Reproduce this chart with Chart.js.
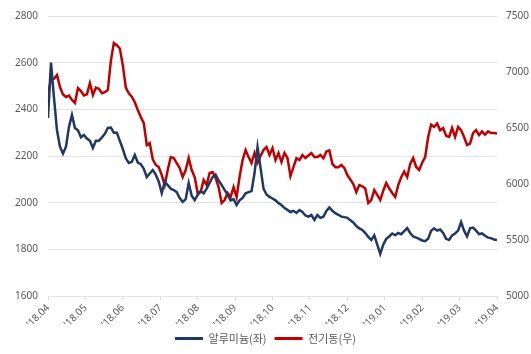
<!DOCTYPE html>
<html>
<head>
<meta charset="utf-8">
<script src="https://cdn.jsdelivr.net/npm/chart.js@4/dist/chart.umd.min.js"></script>
<style>
html,body{margin:0;padding:0;background:#fff;}
#wrap{width:531px;height:354px;position:relative;}
</style>
</head>
<body>
<div id="wrap"><canvas id="c" width="531" height="354"></canvas></div>
<script>
// Month tick labels (x axis)
const tickLabels = ["'18.04","'18.05","'18.06","'18.07","'18.08","'18.09","'18.10","'18.11","'18.12","'19.01","'19.02","'19.03","'19.04"];
const pointsPerMonth = 12.5; // sampling grid of the series below
const seriesNames = ["알루미늄(좌)", "전기동(우)"];

// Aluminium (left axis)
const aluminium = [
2363,2600,2450,2310,2240,2210,2240,2324,2376,2320,
2310,2280,2290,2275,2265,2234,2265,2265,2280,2295,
2320,2322,2300,2300,2265,2230,2190,2170,2175,2204,
2172,2165,2145,2110,2125,2140,2120,2090,2041,2089,
2075,2060,2054,2045,2020,2003,2015,2084,2030,2011,
2033,2050,2040,2060,2085,2110,2120,2095,2076,2055,
2033,2010,2015,1990,2010,2020,2040,2045,2050,2127,
2239,2150,2060,2035,2025,2018,2010,1998,1990,1977,
1969,1960,1965,1956,1968,1960,1945,1940,1947,1926,
1947,1935,1940,1965,1980,1965,1955,1948,1940,1938,
1935,1925,1915,1900,1890,1883,1870,1853,1840,1860,
1820,1780,1820,1845,1855,1868,1860,1870,1865,1878,
1891,1870,1855,1850,1845,1838,1835,1845,1880,1890,
1880,1885,1870,1845,1840,1860,1868,1880,1917,1880,
1855,1890,1893,1880,1865,1868,1858,1850,1848,1842,
1840];

// Copper (right axis)
const copper = [
6812,6929,6940,6973,6866,6800,6777,6790,6750,6723,
6857,6830,6790,6800,6900,6795,6860,6850,6810,6820,
6840,7100,7259,7240,7210,7060,6860,6810,6780,6730,
6661,6598,6544,6348,6366,6220,6170,6152,6080,5990,
6125,6241,6232,6187,6143,6062,6125,6232,6125,6062,
5919,5928,6036,5991,6098,6107,6053,5973,5830,5857,
5919,5884,5973,5884,6062,6214,6303,6241,6187,6277,
6190,6250,6303,6330,6259,6321,6214,6277,6196,6277,
6232,6070,6150,6230,6214,6259,6232,6255,6277,6240,
6240,6260,6230,6290,6300,6180,6150,6150,6170,6143,
6080,6040,6000,5928,5991,5980,5960,5830,5857,5946,
5902,5857,5940,6009,5960,5920,5884,5990,6060,6110,
6062,6180,6232,6152,6125,6190,6241,6420,6530,6510,
6540,6480,6500,6430,6420,6500,6420,6509,6480,6420,
6348,6360,6455,6482,6437,6470,6440,6470,6455,6455,
6450];

const toXY = arr => arr.map((v, i) => ({x: i / pointsPerMonth, y: v}));

const tickFont = {family: "'Noto Sans', 'Noto Sans CJK KR', sans-serif", size: 10};
const tickColor = '#595959';

new Chart(document.getElementById('c'), {
  type: 'line',
  data: {
    datasets: [
      {label: seriesNames[0], data: toXY(aluminium), yAxisID: 'yL',
       borderColor: '#1F3864', backgroundColor: '#1F3864', borderWidth: 2.5,
       pointRadius: 0, tension: 0},
      {label: seriesNames[1], data: toXY(copper), yAxisID: 'yR',
       borderColor: '#C00000', backgroundColor: '#C00000', borderWidth: 2.5,
       pointRadius: 0, tension: 0}
    ]
  },
  options: {
    responsive: false,
    animation: false,
    events: [],
    layout: {padding: {top: 10, left: 0, right: 0, bottom: 0}},
    scales: {
      x: {
        type: 'linear', min: 0, max: tickLabels.length - 1,
        ticks: {stepSize: 1, autoSkip: false, maxRotation: 45, minRotation: 45,
                color: tickColor, font: {family: tickFont.family, size: 10}, padding: 2,
                callback: v => tickLabels[Math.round(v)]},
        grid: {drawOnChartArea: false, drawTicks: true, tickLength: 4, color: '#d9d9d9'},
        border: {display: false},
        afterFit: s => { s.height = 29; }
      },
      yL: {
        position: 'left', min: 1600, max: 2800,
        ticks: {stepSize: 200, color: tickColor, font: tickFont, padding: 10,
                callback: v => String(v)},
        grid: {color: '#e3e3e3', lineWidth: 1, drawTicks: false},
        border: {display: false},
        afterFit: s => { s.width = 48; }
      },
      yR: {
        position: 'right', min: 5000, max: 7500,
        ticks: {stepSize: 500, color: tickColor, font: tickFont, padding: 9,
                callback: v => String(v)},
        grid: {drawOnChartArea: false, drawTicks: false},
        border: {display: false},
        afterFit: s => { s.width = 34; }
      }
    },
    plugins: {
      legend: {
        position: 'bottom',
        labels: {boxWidth: 28, boxHeight: 3, color: tickColor, padding: 8,
                 font: {family: "'Noto Sans CJK KR', sans-serif", size: 11},
                 generateLabels: chart => Chart.defaults.plugins.legend.labels.generateLabels(chart)
                   .map(l => Object.assign(l, {lineWidth: 0}))}
      },
      tooltip: {enabled: false}
    }
  }
});
</script>
</body>
</html>
